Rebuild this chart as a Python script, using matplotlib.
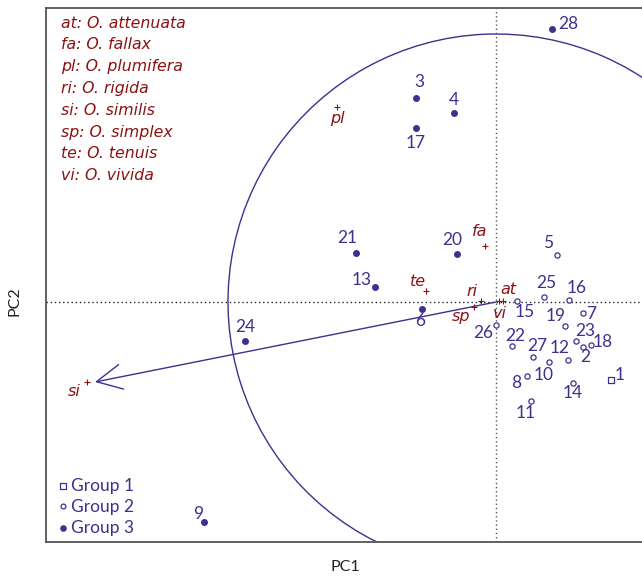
import matplotlib
matplotlib.use("Agg")
import matplotlib.pyplot as plt
from matplotlib.patches import Arc

plt.rcParams['font.family'] = ['Lato', 'DejaVu Sans']

# sample scores (PC1, PC2)
g1_ids = [1]
g1_x = [1.15]
g1_y = [-0.78]

g2_ids = [5, 25, 16, 15, 7, 19, 26, 23, 18, 2, 22, 27, 12, 10, 8, 14, 11]
g2_x = [0.61, 0.48, 0.73, 0.21, 0.87, 0.69, 0.00, 0.80, 0.95, 0.87, 0.16, 0.37, 0.72, 0.53, 0.31, 0.77, 0.35]
g2_y = [0.47, 0.05, 0.02, 0.01, -0.11, -0.24, -0.23, -0.39, -0.43, -0.45, -0.44, -0.55, -0.58, -0.60, -0.74, -0.81, -0.99]

g3_ids = [28, 3, 4, 17, 21, 20, 13, 6, 24, 9]
g3_x = [0.56, -0.80, -0.42, -0.80, -1.40, -0.39, -1.21, -0.74, -2.51, -2.92]
g3_y = [2.73, 2.04, 1.89, 1.74, 0.49, 0.48, 0.15, -0.07, -0.39, -2.20]

# species scores
sp_codes = ['at', 'vi', 'ri', 'sp', 'fa', 'te', 'pl', 'si']
sp_x = [0.07, 0.03, -0.15, -0.22, -0.11, -0.70, -1.59, -4.09]
sp_y = [0.01, 0.01, 0.01, -0.05, 0.56, 0.11, 1.95, -0.80]
sp_names = ['O. attenuata', 'O. fallax', 'O. plumifera', 'O. rigida',
            'O. similis', 'O. simplex', 'O. tenuis', 'O. vivida']
sp_legend_codes = ['at', 'fa', 'pl', 'ri', 'si', 'sp', 'te', 'vi']

arrow_end = (-4.01, -0.80)
circle_radius = 2.68

# label offsets in pixels (dx, dy)
pt_off = {28: (16, 5), 3: (3, 16), 4: (0, 13), 17: (0, -15), 21: (-9, 15),
          20: (-5, 14), 13: (-13, 7), 6: (-2, -12), 24: (0, 14), 9: (-6, 8),
          5: (-9, 12), 25: (2, 14), 16: (8, 12), 15: (8, -11), 7: (8, -1),
          19: (-9, 10), 26: (-13, -8), 23: (9, 10), 18: (12, 3), 2: (2, -10),
          22: (3, 10), 27: (4, 11), 12: (-8, 12), 10: (-5, -13), 8: (-11, -7),
          14: (0, -10), 11: (-5, -12), 1: (9, 5)}
sp_off = {'at': (5, 12), 'vi': (1, -12), 'ri': (-9, 9), 'sp': (-13, -10),
          'fa': (-5, 14), 'te': (-8, 10), 'pl': (0, -12), 'si': (-13, -9)}

blue = '#3d318f'
red = '#8b1111'
ital = ['DejaVu Sans']

fig = plt.figure(figsize=(6.42, 5.77), dpi=100)
ax = fig.add_axes([46/642, 35/577, 596/642, 534/577])
ax.set_xlim(-4.50, 1.46)
ax.set_ylim(-2.40, 2.94)
ax.set_xticks([])
ax.set_yticks([])
for s in ['left', 'bottom', 'top']:
    ax.spines[s].set_color('#555555')
    ax.spines[s].set_linewidth(1.3)
ax.spines['right'].set_visible(False)

ax.axvline(0, color='#555555', ls=(0, (1, 2)), lw=1)
ax.axhline(0, color='#222222', ls=(0, (1, 2)), lw=1)

ax.add_patch(Arc((0, 0), 2*circle_radius, 2*circle_radius, theta1=40, theta2=250,
                 ec=blue, lw=1))
ax.annotate('', xy=arrow_end, xytext=(0, 0),
            arrowprops=dict(arrowstyle='->,head_length=1.8,head_width=0.9',
                            mutation_scale=10, color=blue, lw=1,
                            shrinkA=0, shrinkB=0))

ax.scatter(g1_x, g1_y, marker='s', s=16, facecolor='white', edgecolor=blue, lw=0.9, zorder=3)
ax.scatter(g2_x, g2_y, marker='o', s=14, facecolor='white', edgecolor=blue, lw=0.9, zorder=3)
ax.scatter(g3_x, g3_y, marker='o', s=16, color=blue, zorder=3)

for ids, xs, ys in [(g1_ids, g1_x, g1_y), (g2_ids, g2_x, g2_y), (g3_ids, g3_x, g3_y)]:
    for i, x, y in zip(ids, xs, ys):
        ax.annotate(str(i), (x, y), xytext=pt_off[i], textcoords='offset pixels',
                    ha='center', va='center', color=blue, fontsize=12.5)

ax.scatter(sp_x, sp_y, marker='+', s=18, color=red, lw=0.8, zorder=4)
for c, x, y in zip(sp_codes, sp_x, sp_y):
    ax.annotate(c, (x, y), xytext=sp_off[c], textcoords='offset pixels',
                ha='center', va='center', color=red, fontsize=11.5,
                style='italic', family=ital)

# species key
for k, (c, n) in enumerate(zip(sp_legend_codes, sp_names)):
    ax.text(15/596, 1 - (15 + k*21.8)/534, f'{c}: {n}', transform=ax.transAxes,
            ha='left', va='center', color=red, fontsize=11.3, style='italic',
            family=ital)

# group key
ax.scatter([17/596], [1 - 478/534], marker='s', s=14, facecolor='white', edgecolor=blue, lw=0.9, transform=ax.transAxes)
ax.scatter([17/596], [1 - 498/534], marker='o', s=12, facecolor='white', edgecolor=blue, lw=0.9, transform=ax.transAxes)
ax.scatter([17/596], [1 - 520/534], marker='o', s=14, color=blue, transform=ax.transAxes)
for k, g in enumerate(['Group 1', 'Group 2', 'Group 3']):
    ax.text(25/596, 1 - (478 + k*21)/534, g, transform=ax.transAxes,
            ha='left', va='center', color=blue, fontsize=12.5)

fig.text(345/642, 1 - 567/577, 'PC1', ha='center', va='center', fontsize=11.5, color='#222222')
fig.text(15/642, 1 - 301/577, 'PC2', ha='center', va='center', rotation=90, fontsize=11.5, color='#222222')

fig.savefig('out.png', dpi=100)
